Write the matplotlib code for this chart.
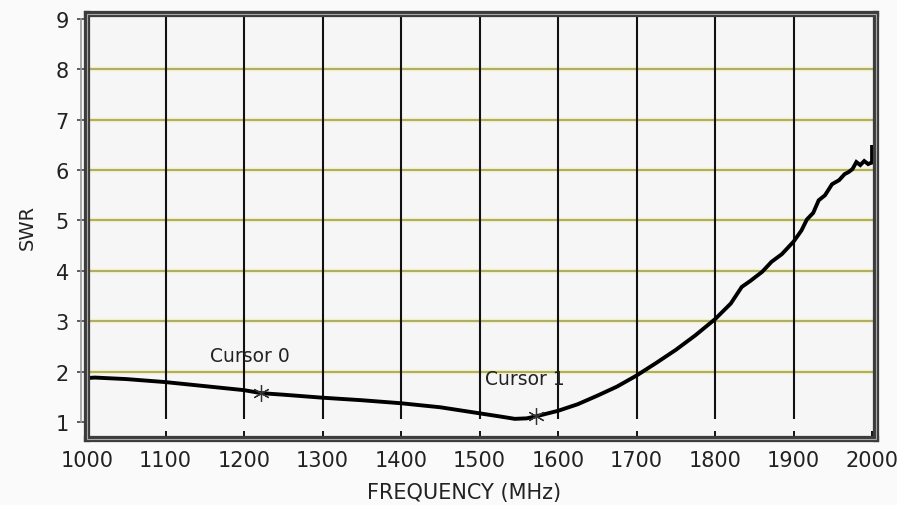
import matplotlib
matplotlib.use("Agg")
import matplotlib.pyplot as plt
from matplotlib.patches import Rectangle
import matplotlib.transforms as mtransforms

# ---- data ----
freq = [1000, 1010, 1050, 1100, 1150, 1200, 1222, 1250, 1300, 1350, 1400, 1450,
        1500, 1525, 1545, 1560, 1572, 1600, 1625, 1650, 1675, 1700, 1725, 1750,
        1775, 1800, 1820, 1834, 1845, 1860, 1872, 1885, 1900, 1910, 1917, 1925,
        1932, 1940, 1949, 1958, 1965, 1970, 1975, 1980, 1985, 1990, 1995, 1998,
        2000, 2000]
swr = [1.87, 1.88, 1.85, 1.79, 1.71, 1.63, 1.57, 1.54, 1.48, 1.43, 1.37, 1.29,
       1.17, 1.11, 1.06, 1.07, 1.11, 1.22, 1.35, 1.52, 1.70, 1.92, 2.17, 2.43,
       2.72, 3.04, 3.35, 3.68, 3.80, 3.98, 4.18, 4.33, 4.58, 4.80, 5.02, 5.15,
       5.40, 5.50, 5.72, 5.80, 5.92, 5.96, 6.02, 6.16, 6.10, 6.18, 6.12, 6.14,
       6.15, 6.46]
cursor_freq = [1222, 1572]
cursor_swr = [1.57, 1.11]
cursor_labels = ["Cursor 0", "Cursor 1"]
x_ticks = [1000, 1100, 1200, 1300, 1400, 1500, 1600, 1700, 1800, 1900, 2000]
y_ticks = [1, 2, 3, 4, 5, 6, 7, 8, 9]

fig = plt.figure(figsize=(8.97, 5.06), dpi=100, facecolor="#fafafa")
W, H = 897, 506
left, right, top, bottom = 87, 876, 15, 440
ax = fig.add_axes([left / W, 1 - bottom / H, (right - left) / W, (bottom - top) / H])
ax.set_facecolor("#f6f6f6")
ax.set_xlim(1000, 2005)
ax.set_ylim(0.66, 9.1)

# horizontal grid (olive/yellow)
for yv in y_ticks[1:-1]:
    ax.axhline(yv, color="#f1efc4", lw=3.2, zorder=1)
    ax.axhline(yv, color="#aaa660", lw=1.3, zorder=1.1)
# vertical grid (dark) with small gap near bottom
for xv in x_ticks[1:-1]:
    ax.vlines(xv, 1.05, 9.1, color="#111111", lw=1.5, zorder=1.2)

ax.plot(freq, swr, color="black", lw=2.8, zorder=3, solid_joinstyle="miter")

# cursors
ax.plot(cursor_freq, cursor_swr, ls="none", marker=(6, 2, 0), ms=12,
        mew=0.9, color="#333333", zorder=4)
for cx, cy, lab in zip(cursor_freq, cursor_swr, cursor_labels):
    ax.annotate(lab, (cx, cy), xytext=(-51, 38), textcoords="offset pixels",
                ha="left", va="center", fontsize=13.5, color="#222222", zorder=5)

ax.set_xticks(x_ticks)
ax.set_yticks(y_ticks)
ax.tick_params(axis="x", direction="in", length=6, width=1.4, color="#111111",
               labelsize=15, pad=8, labelcolor="#222222")
ax.tick_params(axis="y", direction="out", length=7, width=1.2, color="#444444",
               labelsize=15, pad=6, labelcolor="#222222")

for s in ax.spines.values():
    s.set_linewidth(4.5)
    s.set_color("#3c3c3c")
    s.set_zorder(6)
ax.add_patch(Rectangle((0, 0), 1, 1, transform=ax.transAxes, fill=False,
                       lw=0.8, ec="#a8a8a8", clip_on=False, zorder=7))

# LabVIEW-style scale line left of the frame
trans = mtransforms.blended_transform_factory(ax.transAxes, ax.transData)
ax.plot([-0.0075, -0.0075], [y_ticks[0], y_ticks[-1]], transform=trans,
        color="#9a9a9a", lw=1.2, clip_on=False, zorder=2)

ax.set_xlabel("FREQUENCY (MHz)", fontsize=15, color="#222222")
ax.set_ylabel("SWR", fontsize=14, color="#222222")
ax.xaxis.set_label_coords(0.478, -0.125)
ax.xaxis.label.set_va("center")
ax.yaxis.set_label_coords(-0.076, 0.5)
ax.yaxis.label.set_va("center")

fig.savefig("out.png", dpi=100, facecolor=fig.get_facecolor())
